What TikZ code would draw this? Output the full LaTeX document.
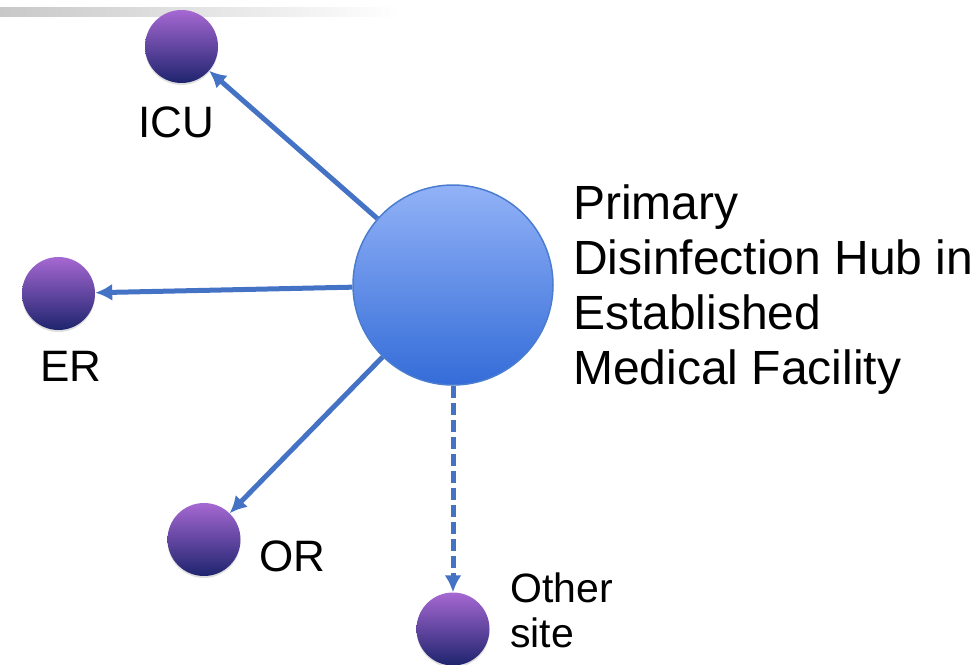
\documentclass[tikz,border=0pt]{standalone}
\usepackage{fontspec}
\setmainfont{Liberation Sans}
\usetikzlibrary{positioning,arrows.meta,shadows}
\definecolor{hubTop}{RGB}{146,178,247}
\definecolor{hubBot}{RGB}{52,108,216}
\definecolor{hubLine}{RGB}{74,125,208}
\definecolor{siteTop}{RGB}{166,104,210}
\definecolor{siteBot}{RGB}{30,36,110}
\definecolor{cArrow}{RGB}{68,114,196}
\definecolor{cBar}{RGB}{200,200,200}
\tikzset{hubblob/.style={
  shape=circle,
  draw=hubLine,
  line width=1.5pt,
  top color=hubTop,
  bottom color=hubBot,
  minimum size=200pt,
  inner sep=0pt,
  }
}
\tikzset{siteblob/.style={
  shape=circle,
  top color=siteTop,
  bottom color=siteBot,
  minimum size=73pt,
  inner sep=0pt,
  drop shadow={shadow xshift=0pt, shadow yshift=-2pt, opacity=0.25},
  }
}
\tikzset{link/.style={
  draw=cArrow,
  line width=5pt,
  -{Latex[length=17pt,width=17pt]},
  }
}
\tikzset{sitelabel/.style={
  font=\fontsize{44}{48}\selectfont,
  inner sep=0pt,
  text=black,
  }
}
\tikzset{hubtext/.style={
  font=\fontsize{48}{55}\selectfont,
  align=left,
  inner sep=0pt,
  text=black,
  }
}

\begin{document}
\begin{tikzpicture}[x=1pt, y=-1pt, on grid]
  \useasboundingbox (0,0) rectangle (977,664);
  \fill[left color=cBar, right color=white] (0,7) rectangle (400,16);

  \node [hubblob] (hub) at (453,285) {};
  \node [siteblob, above left =238.5pt and 271.5pt of hub] (icu) {};
  \node [siteblob, below left =8.5pt and 394.5pt of hub] (er) {};
  \node [siteblob, below left =254.5pt and 249pt of hub] (or) {};
  \node [siteblob, below =344pt of hub] (other) {};

  \node [sitelabel, below left =75.5pt and 5.5pt of icu] (icul) {ICU};
  \node [sitelabel, below right =73pt and 12.5pt of er] (erl) {ER};
  \node [sitelabel, below right =17pt and 88pt of or] (orl) {OR};
  \node [sitelabel, font=\fontsize{41}{45}\selectfont, align=left, anchor=north west] (otherl) at (510,573) {Other\\site};
  \node [hubtext, anchor=north west] (hubl) at (573,185) {Primary\\Disinfection Hub in\\Established\\Medical Facility};

  \draw [link] (hub) -- (icu);
  \draw [link] (hub) -- (er);
  \draw [link] (hub) -- (or);
  \draw [link, dash pattern=on 12pt off 5pt] (hub) -- (other);
\end{tikzpicture}
\end{document}
